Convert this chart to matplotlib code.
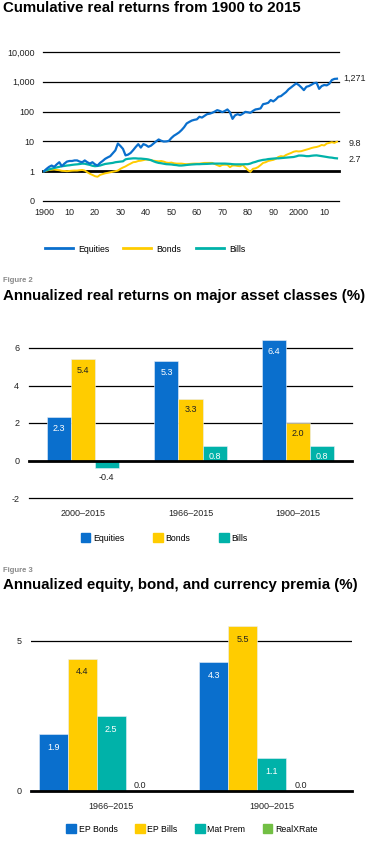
import numpy as np
import matplotlib
matplotlib.use("Agg")
import matplotlib.pyplot as plt
from matplotlib.lines import Line2D
from matplotlib.patches import Patch

plt.rcParams['font.family'] = ['Liberation Sans', 'DejaVu Sans']
plt.rcParams['axes.unicode_minus'] = False

# ---- figure 1 data: cumulative real returns, 1900 = 1
years = list(range(1900, 2016))
equities = [
    1.0, 1.2, 1.4, 1.55, 1.4, 1.7, 2.0, 1.47, 1.8, 2.1,
    2.2, 2.2, 2.3, 2.3, 2.1, 2.0, 2.3, 2.0, 1.8, 2.0,
    1.7, 1.55, 1.9, 2.2, 2.6, 2.9, 3.2, 4.0, 5.0, 8.5,
    7.0, 5.6, 3.4, 3.6, 4.1, 5.1, 6.5, 8.1, 6.2, 8.1,
    7.5, 6.6, 7.2, 8.5, 10.0, 11.6, 10.5, 9.9, 10.0, 10.4,
    13.0, 15.5, 17.5, 20, 24, 30, 40, 45, 50, 53,
    55, 67, 63, 72, 82, 85, 91, 100, 112, 105,
    96, 105, 118, 95, 57, 75, 82, 76, 85, 98,
    95, 91, 105, 118, 122, 128, 178, 185, 197, 244,
    220, 256, 315, 330, 387, 450, 560, 650, 760, 886,
    780, 650, 525, 680, 720, 800, 900, 930, 580, 720,
    780, 760, 860, 1150, 1250, 1271]
bonds = [
    1.00, 1.05, 1.10, 1.12, 1.14, 1.10, 1.08, 1.03, 1.02, 1.00,
    1.02, 1.04, 1.05, 1.05, 1.08, 1.10, 1.05, 0.92, 0.82, 0.75,
    0.68, 0.65, 0.75, 0.80, 0.85, 0.88, 0.92, 0.96, 1.00, 1.05,
    1.20, 1.33, 1.45, 1.63, 1.80, 2.00, 2.05, 2.20, 2.25, 2.35,
    2.47, 2.40, 2.35, 2.25, 2.20, 2.15, 2.20, 2.10, 1.95, 1.90,
    1.95, 1.85, 1.80, 1.80, 1.80, 1.75, 1.72, 1.75, 1.78, 1.80,
    1.80, 1.80, 1.85, 1.90, 1.90, 1.90, 1.90, 1.75, 1.60, 1.47,
    1.63, 1.65, 1.63, 1.37, 1.55, 1.55, 1.50, 1.47, 1.63, 1.33,
    1.10, 0.95, 1.20, 1.25, 1.37, 1.60, 1.90, 2.00, 2.20, 2.30,
    2.40, 2.60, 3.00, 3.20, 3.10, 3.50, 3.80, 4.10, 4.50, 4.70,
    4.60, 4.70, 5.00, 5.30, 5.60, 6.00, 6.30, 6.50, 6.90, 7.60,
    7.30, 8.50, 8.90, 9.40, 8.90, 9.80]
bills = [
    1.00, 1.08, 1.15, 1.22, 1.28, 1.34, 1.40, 1.47, 1.50, 1.55,
    1.58, 1.63, 1.67, 1.70, 1.74, 1.80, 1.78, 1.70, 1.63, 1.52,
    1.47, 1.50, 1.55, 1.65, 1.75, 1.80, 1.85, 1.90, 2.00, 2.05,
    2.10, 2.15, 2.50, 2.60, 2.65, 2.70, 2.70, 2.65, 2.65, 2.60,
    2.55, 2.47, 2.35, 2.15, 2.00, 1.90, 1.85, 1.78, 1.72, 1.70,
    1.68, 1.63, 1.60, 1.55, 1.55, 1.58, 1.62, 1.65, 1.68, 1.70,
    1.72, 1.72, 1.74, 1.75, 1.76, 1.78, 1.80, 1.80, 1.80, 1.80,
    1.80, 1.80, 1.78, 1.76, 1.72, 1.70, 1.70, 1.70, 1.70, 1.72,
    1.72, 1.80, 1.95, 2.05, 2.20, 2.30, 2.40, 2.45, 2.55, 2.60,
    2.65, 2.70, 2.70, 2.75, 2.80, 2.85, 2.90, 2.95, 3.00, 3.15,
    3.35, 3.35, 3.30, 3.20, 3.20, 3.30, 3.37, 3.40, 3.30, 3.20,
    3.10, 3.00, 2.90, 2.85, 2.75, 2.70]
end_labels = ['1,271', '9.8', '2.7']
y1_ticks = [0.1, 1, 10, 100, 1000, 10000]
y1_ticklabels = ['0', '1', '10', '100', '1,000', '10,000']
x1_ticks = [1900, 1910, 1920, 1930, 1940, 1950, 1960, 1970, 1980, 1990, 2000, 2010]
x1_ticklabels = ['1900', '10', '20', '30', '40', '50', '60', '70', '80', '90', '2000', '10']

# ---- figure 2 data
periods2 = ['2000\u20132015', '1966\u20132015', '1900\u20132015']
series2 = ['Equities', 'Bonds', 'Bills']
values2 = [[2.3, 5.3, 6.4],
           [5.4, 3.3, 2.0],
           [-0.4, 0.8, 0.8]]

# ---- figure 3 data
periods3 = ['1966\u20132015', '1900\u20132015']
series3 = ['EP Bonds', 'EP Bills', 'Mat Prem', 'RealXRate']
values3 = [[1.9, 4.3],
           [4.4, 5.5],
           [2.5, 1.1],
           [0.0, 0.0]]

BLUE = '#0a6fcd'
YELLOW = '#ffcc00'
TEAL = '#00b2a9'
GREEN = '#72bf44'
TXT = '#222222'
FS = 6.5

W, H = 376, 843
fig = plt.figure(figsize=(W / 100, H / 100), dpi=100)


def px_axes(l, t, r, b):
    return fig.add_axes([l / W, 1 - b / H, (r - l) / W, (b - t) / H])


def clean(ax):
    for s in ax.spines.values():
        s.set_visible(False)
    ax.tick_params(length=0, labelsize=FS, colors=TXT)


# ================= panel 1 =================
fig.text(3 / W, 1 - 8 / H, 'Cumulative real returns from 1900 to 2015',
         fontsize=10.8, fontweight='bold', va='center', ha='left')
ax1 = px_axes(43, 52, 339, 201)
ax1.set_yscale('log')
ax1.set_ylim(0.1, 10000)
ax1.set_xlim(1899.6, 2015.8)
for t in y1_ticks:
    ax1.axhline(t, color='black', lw=2.0 if t == 1 else 0.9, zorder=1, clip_on=False)
ax1.plot(years, equities, color=BLUE, lw=1.6, zorder=3, label='Equities')
ax1.plot(years, bonds, color=YELLOW, lw=1.4, zorder=2, label='Bonds')
ax1.plot(years, bills, color=TEAL, lw=1.6, zorder=2, label='Bills')
ax1.minorticks_off()
ax1.set_yticks(y1_ticks)
ax1.set_yticklabels(y1_ticklabels)
ax1.set_xticks(x1_ticks)
ax1.set_xticklabels(x1_ticklabels)
clean(ax1)
ax1.tick_params(axis='y', pad=6)
ax1.tick_params(axis='x', pad=5)
offs = [(6, 0), (12, -2), (12, -1)]
for ser, lab, off in zip([equities, bonds, bills], end_labels, offs):
    ax1.annotate(lab, xy=(years[-1], ser[-1]), xytext=off, textcoords='offset pixels',
                 fontsize=FS, color=TXT, ha='left', va='center', annotation_clip=False)
fig.legend(handles=[Line2D([], [], color=BLUE, lw=2),
                    Line2D([], [], color=YELLOW, lw=2),
                    Line2D([], [], color=TEAL, lw=2)],
           labels=series2, loc='center', bbox_to_anchor=(145 / W, 1 - 249 / H),
           ncol=3, frameon=False, fontsize=6.3, handlelength=3.2, handletextpad=0.6,
           columnspacing=1.6)

# ================= panel 2 =================
fig.text(3 / W, 1 - 281 / H, 'Figure 2', fontsize=5.5, fontweight='bold',
         color='#888888', va='center', ha='left')
fig.text(3 / W, 1 - 296 / H, 'Annualized real returns on major asset classes (%)',
         fontsize=10.8, fontweight='bold', va='center', ha='left')
ax2 = px_axes(29, 336.75, 352, 498)
ax2.set_ylim(-2, 6.6)
ax2.set_xlim(-0.5, 2.5)
for t in [-2, 0, 2, 4, 6]:
    ax2.axhline(t, color='black', lw=2.0 if t == 0 else 0.9,
                zorder=1 if t != 0 else 3, clip_on=False)
x2 = np.arange(len(periods2))
bw2 = 0.223
cols2 = [BLUE, YELLOW, TEAL]
for i, (vals, c) in enumerate(zip(values2, cols2)):
    xs = x2 + (i - 1) * bw2
    ax2.bar(xs, vals, width=bw2, color=c, edgecolor='#e8eef8', linewidth=0.4, zorder=2)
    tc = TXT if c == YELLOW else 'white'
    for xx, v in zip(xs, vals):
        if v >= 0:
            ax2.annotate(f'{v:.1f}', xy=(xx, v), xytext=(0, -11), textcoords='offset pixels',
                         ha='center', va='center', fontsize=FS, color=tc, zorder=4)
        else:
            ax2.annotate(f'{v:.1f}', xy=(xx, v), xytext=(0, -10), textcoords='offset pixels',
                         ha='center', va='center', fontsize=FS, color=TXT, zorder=4)
ax2.set_yticks([-2, 0, 2, 4, 6])
ax2.set_xticks(x2)
ax2.set_xticklabels(periods2)
clean(ax2)
ax2.tick_params(axis='y', pad=7)
ax2.tick_params(axis='x', pad=8)
fig.legend(handles=[Patch(color=c) for c in cols2], labels=series2, loc='center',
           bbox_to_anchor=(164 / W, 1 - 538 / H), ncol=3, frameon=False, fontsize=6.3,
           handlelength=1.1, handleheight=1.1, handletextpad=0.3, columnspacing=3.3)

# ================= panel 3 =================
fig.text(3 / W, 1 - 570 / H, 'Figure 3', fontsize=5.5, fontweight='bold',
         color='#888888', va='center', ha='left')
fig.text(3 / W, 1 - 585 / H, 'Annualized equity, bond, and currency premia (%)',
         fontsize=10.8, fontweight='bold', va='center', ha='left')
ax3 = px_axes(31, 623, 352, 791)
ax3.set_ylim(0, 5.6)
ax3.set_xlim(-0.5, 1.5)
ax3.axhline(5, color='black', lw=0.9, zorder=1)
ax3.axhline(0, color='black', lw=2.0, zorder=3, clip_on=False)
x3 = np.arange(len(periods3))
bw3 = 0.181
cols3 = [BLUE, YELLOW, TEAL, GREEN]
for i, (vals, c) in enumerate(zip(values3, cols3)):
    xs = x3 + (i - 2) * bw3
    ax3.bar(xs, vals, width=bw3, color=c, edgecolor='#e8eef8', linewidth=0.4, zorder=2)
    tc = TXT if c == YELLOW else 'white'
    for xx, v in zip(xs, vals):
        if v > 0:
            ax3.annotate(f'{v:.1f}', xy=(xx, v), xytext=(0, -13), textcoords='offset pixels',
                         ha='center', va='center', fontsize=FS, color=tc, zorder=4)
        else:
            ax3.annotate(f'{v:.1f}', xy=(xx, v), xytext=(0, 6), textcoords='offset pixels',
                         ha='center', va='center', fontsize=FS, color=TXT, zorder=4)
ax3.set_yticks([0, 5])
ax3.set_xticks(x3)
ax3.set_xticklabels(periods3)
clean(ax3)
ax3.tick_params(axis='y', pad=7)
ax3.tick_params(axis='x', pad=8)
fig.legend(handles=[Patch(color=c) for c in cols3], labels=series3, loc='center',
           bbox_to_anchor=(192 / W, 1 - 829 / H), ncol=4, frameon=False, fontsize=6.3,
           handlelength=1.1, handleheight=1.1, handletextpad=0.3, columnspacing=2.0)

fig.savefig('out.png', dpi=100)
